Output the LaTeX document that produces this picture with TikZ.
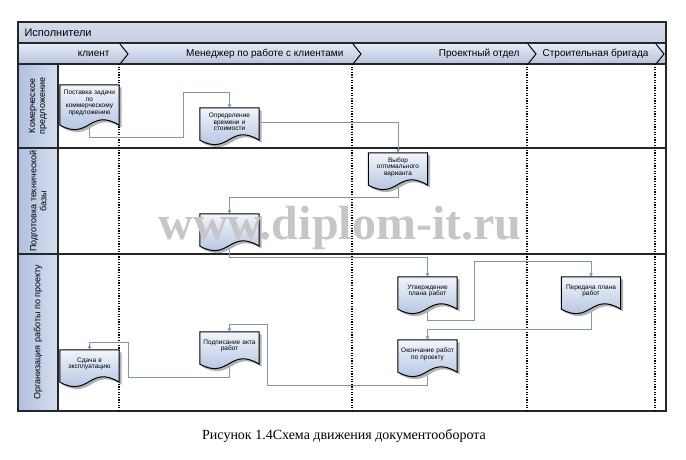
\documentclass[tikz,border=0pt]{standalone}
\usepackage{fontspec}
\setmainfont{Liberation Sans}
\newfontfamily\capfont{Liberation Serif}
\usetikzlibrary{arrows.meta, calc}

\definecolor{headblue}{HTML}{C3CDE3}
\definecolor{laneblue}{HTML}{B5C2DD}
\definecolor{lanelight}{HTML}{E8EDF6}
\definecolor{rowblue}{HTML}{AFBFDE}
\definecolor{rowlight}{HTML}{D6DFEF}
\definecolor{docblue}{HTML}{A3B8DB}
\definecolor{doclight}{HTML}{F2F5FB}
\definecolor{flowblue}{HTML}{7B96C0}

\pgfdeclarelayer{lanes}
\pgfdeclarelayer{shapes}
\pgfsetlayers{lanes,shapes,main}

\tikzset{
  doc/.style={rectangle, minimum width=59pt, minimum height=28pt, text width=57pt,
    inner sep=0pt, align=center, font=\fontsize{6.5}{6.7}\selectfont},
  flow/.style={flowblue, line width=0.8pt, -{Triangle[length=3.5pt,width=3.5pt]}},
  sepline/.style={line width=1.3pt, dash pattern=on 1.3pt off 1.3pt},
  frame/.style={line width=1.4pt, black!85},
  lanename/.style={anchor=east, font=\fontsize{10}{12}\selectfont},
  rowname/.style={rotate=90, align=center, font=\fontsize{9}{10}\selectfont}
}

% document outline round a node, wave at the bottom
\newcommand{\docshape}[1]{%
  \fill[black!30] ($(#1.north west)+(2.5,2.5)$) -- ($(#1.north east)+(2.5,2.5)$)
    -- ($(#1.south east)+(2.5,6.5)$) .. controls ($(#1.south)+(2.5,-11.5)$) and ($(#1.south)+(2.5,22.5)$) .. ($(#1.south west)+(2.5,6.5)$) -- cycle;
  \draw[line width=1pt, top color=doclight, bottom color=docblue] (#1.north west) -- (#1.north east)
    -- ($(#1.south east)+(0,4)$) .. controls ($(#1.south)+(0,-14)$) and ($(#1.south)+(0,20)$) .. ($(#1.south west)+(0,4)$) -- cycle;
}

\begin{document}
\begin{tikzpicture}[x=1pt, y=-1pt]
    \useasboundingbox (0,0) rectangle (686,460);

    % swimlanes
    \begin{pgfonlayer}{lanes}
    \draw[frame, top color=headblue!70, bottom color=headblue] (18,22) rectangle (666,43);
    \draw[frame, top color=lanelight, bottom color=laneblue] (18,43) rectangle (666,64);
    \draw[frame, left color=rowblue, right color=rowlight] (18,64) rectangle (58,411);
    \draw[frame] (18,64) rectangle (666,411);
    \draw[frame] (18,148) -- (666,148);
    \draw[frame] (18,254) -- (666,254);
    \foreach \x in {119,352,527,655} {
        \draw[sepline] (\x,64) -- (\x,411);
        \draw[line width=1pt] (\x+1,44) -- (\x+9,54) -- (\x+1,64);
    }
    \end{pgfonlayer}

    % headings
    \node[anchor=west, font=\fontsize{11}{13}\selectfont] (title) at (21,32.5) {Исполнители};
    \node[lanename] (client) at (113,54) {клиент};
    \node[lanename] (manager) at (347,54) {Менеджер по работе с клиентами};
    \node[lanename] (project) at (523,54) {Проектный отдел};
    \node[lanename] (brigade) at (652,54) {Строительная бригада};

    \node[rowname] (row1) at (38,106) {Комерческое\\предложение};
    \node[rowname] (row2) at (38,201) {Подготовка технической\\базы};
    \node[rowname] (row3) at (38,332) {Организация работы по проекту};

    % documents
    \node[doc, minimum height=36pt] (n1) at (89.5,103) {Поставка задачи\\по\\коммерческому\\предложению};
    \node[doc] (n2) at (229.5,122) {Определение\\времени и\\стоимости};
    \node[doc] (n3) at (398,167) {Выбор\\оптимального\\варианта};
    \node[doc] (n4) at (229.5,228) {};
    \node[doc] (n5) at (427.5,291) {Утверждение\\плана работ};
    \node[doc] (n6) at (591,291) {Передача плана\\работ};
    \node[doc] (n7) at (427.5,354) {Окончание работ\\по проекту};
    \node[doc] (n8) at (229.5,346) {Подписание акта\\работ};
    \node[doc] (n9) at (89.5,364) {Сдача в\\эксплуатацию};

    \begin{pgfonlayer}{shapes}
    \foreach \n in {n1,n2,n3,n4,n5,n6,n7,n8,n9} {\docshape{\n}}
    \end{pgfonlayer}

    % flow of documents
    \begin{pgfonlayer}{lanes}
    \draw[flow] (n1.south) |- (183,137) |- ($(n2.north)+(0,-15)$) -- (n2.north);
    \draw[flow] (n2.east) -| (n3.north);
    \draw[flow] (n3.south) |- ($(n4.north)+(0,-16)$) -- (n4.north);
    \draw[flow] (n4.south) |- ($(n5.north)+(0,-19)$) -- (n5.north);
    \draw[flow] (n5.south) |- (474,320) |- ($(n6.north)+(0,-15)$) -- (n6.north);
    \draw[flow] (n6.south) |- ($(n7.north)+(0,-10)$) -- (n7.north);
    \draw[flow] (n7.south) |- (267,385) |- ($(n8.north)+(0,-7)$) -- (n8.north);
    \draw[flow] (n8.south) |- (128,377) |- ($(n9.north)+(0,-7)$) -- (n9.north);
    \end{pgfonlayer}

    \node[anchor=base, text=gray!45, font=\capfont\bfseries\fontsize{48}{50}\selectfont] (mark) at (340,239) {www.diplom-it.ru};

    \node[font=\capfont\fontsize{14}{16}\selectfont] (caption) at (344,436) {Рисунок 1.4Схема движения документооборота};
\end{tikzpicture}
\end{document}
